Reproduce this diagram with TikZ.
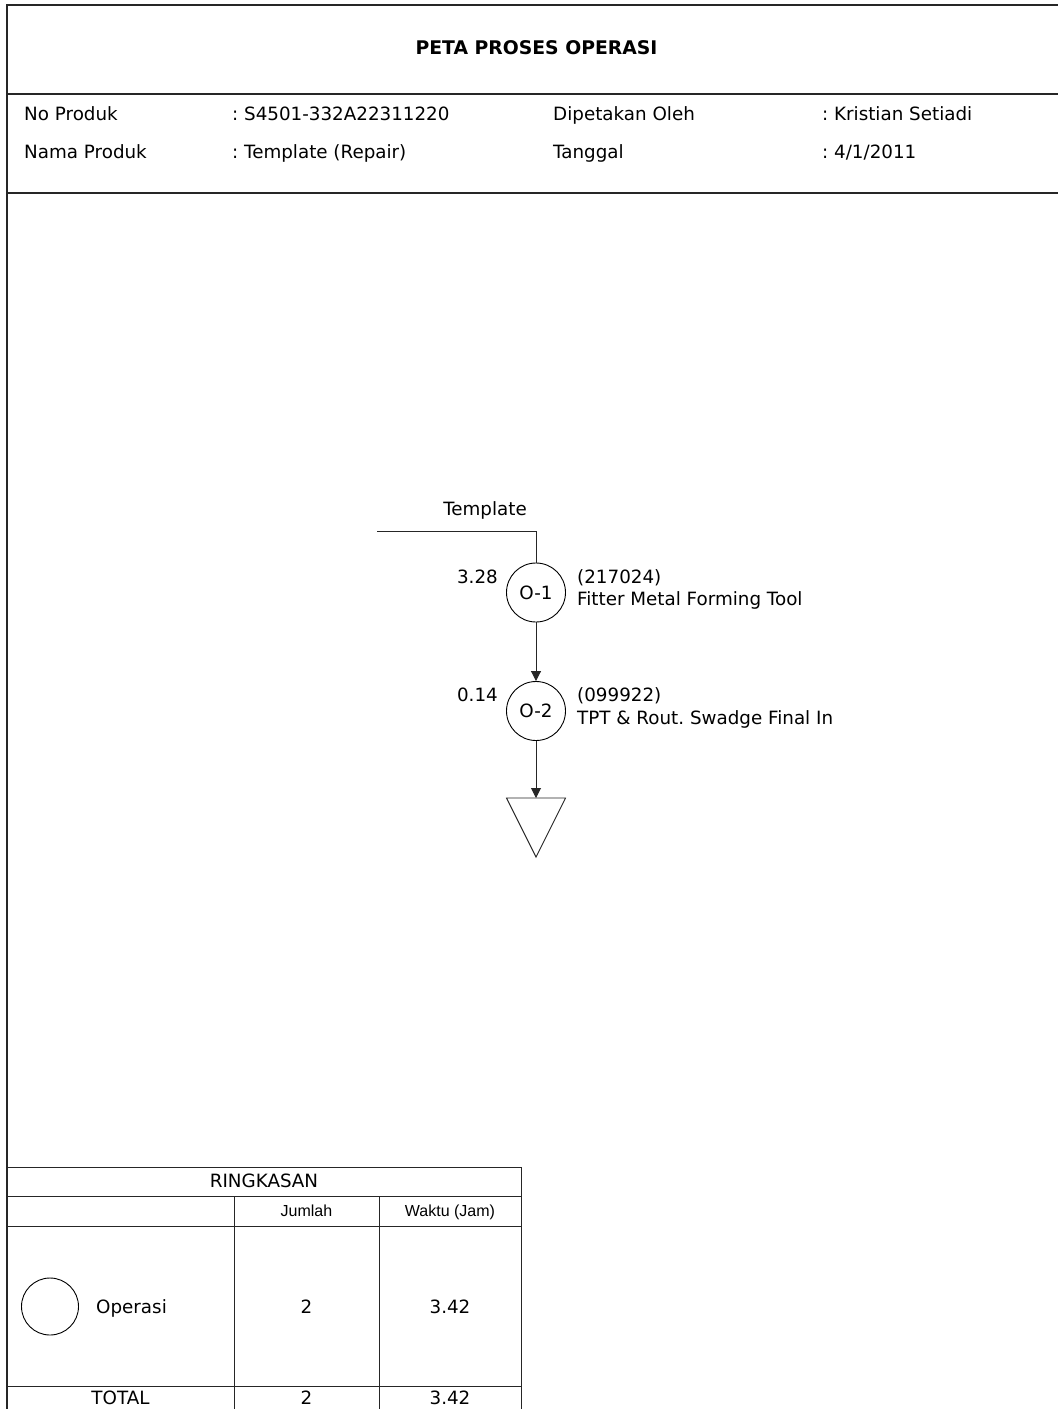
\documentclass[tikz,border=0pt]{standalone}
\usepackage{fontspec}
\setmainfont{DejaVu Sans}
\newfontfamily\arialf{Liberation Sans}
\usetikzlibrary{arrows.meta}
\frenchspacing
\tikzset{
  frameline/.style={line width=1.1pt, draw=black!85},
  tabline/.style={line width=1pt, draw=black!85},
  txt/.style={inner sep=0pt, font=\fontsize{18.3}{22}\selectfont},
  ttl/.style={inner sep=0pt, font=\fontsize{18.8}{22}\selectfont\bfseries},
  smalltxt/.style={inner sep=0pt, font=\arialf\fontsize{16}{19}\selectfont},
  opcircle/.style={circle, draw, line width=0.9pt, minimum size=59pt, inner sep=0pt, font=\fontsize{18.3}{22}\selectfont},
  flow/.style={line width=0.9pt, draw=black!85},
  flowarrow/.style={flow, -{Triangle[length=10pt,width=10pt]}}
}
\begin{document}
\begin{tikzpicture}[x=1pt,y=-1pt]
\useasboundingbox (0,0) rectangle (1058,1409);
% frame
\draw[frameline] (1058,5) -- (7,5) -- (7,1409);
\draw[frameline] (7,94) -- (1058,94);
\draw[frameline] (7,193) -- (1058,193);
% header
\node[ttl, anchor=base] (title) at (536.5,54.5) {PETA PROSES OPERASI};
\node[txt, anchor=base west] (l1) at (24,120) {No Produk};
\node[txt, anchor=base west] (v1) at (232,120) {: S4501-332A22311220};
\node[txt, anchor=base west] (l2) at (553,120) {Dipetakan Oleh};
\node[txt, anchor=base west] (v2) at (822,120) {: Kristian Setiadi};
\node[txt, anchor=base west] (l3) at (24,158) {Nama Produk};
\node[txt, anchor=base west] (v3) at (232,158) {: Template (Repair)};
\node[txt, anchor=base west] (l4) at (553,158) {Tanggal};
\node[txt, anchor=base west] (v4) at (822,158) {: 4/1/2011};
% flow
\coordinate (tstart) at (377,531.5);
\coordinate (tcorner) at (536,531.5);
\node[txt, anchor=base] (tlabel) at (485,515) {Template};
\node[opcircle] (o1) at (536,592.5) {O-1};
\node[opcircle] (o2) at (536,711) {O-2};
\node[txt, anchor=base east] (t1) at (498,583) {3.28};
\node[txt, anchor=base east] (t2) at (498,701.5) {0.14};
\node[txt, anchor=base west] (c1) at (577,583) {(217024)};
\node[txt, anchor=base west] (d1) at (577,605.5) {Fitter Metal Forming Tool};
\node[txt, anchor=base west] (c2) at (577,701.5) {(099922)};
\node[txt, anchor=base west] (d2) at (577,724) {TPT \& Rout. Swadge Final In};
\coordinate (tritop) at (536,798);
\coordinate (trileft) at (506.5,798);
\coordinate (triright) at (565.5,798);
\coordinate (tribot) at (536,857);
\draw[flow] (tstart) -- (tcorner) -- (o1.north);
\draw[flowarrow] (o1.south) -- (o2.north);
\draw[flowarrow] (o2.south) -- (tritop);
\draw[flow, line join=miter] (trileft) -- (triright) -- (tribot) -- cycle;
% summary table
\draw[tabline] (7,1167) -- (521,1167) -- (521,1409);
\draw[tabline] (7,1196.5) -- (521,1196.5);
\draw[tabline] (7,1226) -- (521,1226);
\draw[tabline] (7,1386) -- (521,1386);
\draw[tabline] (234.5,1196.5) -- (234.5,1409);
\draw[tabline] (379,1196.5) -- (379,1409);
\node[txt, anchor=base] (rk) at (264,1187) {RINGKASAN};
\node[smalltxt, anchor=base] (hj) at (306.5,1216) {Jumlah};
\node[smalltxt, anchor=base] (hw) at (450,1216) {Waktu (Jam)};
\node[circle, draw, line width=0.9pt, minimum size=57pt, inner sep=0pt] (sym) at (50,1306.5) {};
\node[txt, anchor=base west] (op) at (96,1313) {Operasi};
\node[txt, anchor=base] (n1) at (306.5,1313) {2};
\node[txt, anchor=base] (w1) at (450,1313) {3.42};
\node[txt, anchor=base] (tot) at (120.5,1404) {TOTAL};
\node[txt, anchor=base] (n2) at (306.5,1404) {2};
\node[txt, anchor=base] (w2) at (450,1404) {3.42};
\end{tikzpicture}
\end{document}
